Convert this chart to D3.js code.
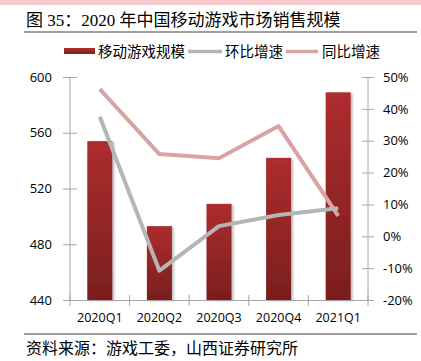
<!DOCTYPE html>
<html lang="zh">
<head>
  <meta charset="UTF-8">
  <title>2020 年中国移动游戏市场销售规模</title>
  <style>
    body { margin: 0; background: #fff; }
    svg { display: block; }
  </style>
</head>
<body>
  <div id="chart"></div>
  <script src="https://d3js.org/d3.v7.min.js"></script>
  <script>

    const quarters = ["2020Q1", "2020Q2", "2020Q3", "2020Q4", "2021Q1"];
    const scale = [554, 493, 509, 542, 589];          // 移动游戏规模 (亿元)
    const qoq = [37.5, -10.8, 3.2, 6.7, 8.8];          // 环比增速 (%)
    const yoy = [46.2, 25.8, 24.5, 34.6, 6.4];         // 同比增速 (%)
    const leftTicks = [440, 480, 520, 560, 600];
    const rightTicks = [-20, -10, 0, 10, 20, 30, 40, 50];

    const width = 421,
          height = 361,
          margin = {top: 77, right: 53, bottom: 61, left: 70};

    const cjk = "'Noto Sans CJK SC', sans-serif";
    const latin = "'Open Sans', 'Noto Sans CJK SC', sans-serif";
    const axisColor = "#a6a6a6";

    const svg = d3.select("#chart")
      .append("svg")
      .attr("width", width)
      .attr("height", height);

    // gradient + shadow for bars
    const defs = svg.append("defs");
    const grad = defs.append("linearGradient")
      .attr("id", "barGrad")
      .attr("x1", 0).attr("y1", 0).attr("x2", 0).attr("y2", 1);
    grad.append("stop").attr("offset", "0%").attr("stop-color", "#ad2d2e");
    grad.append("stop").attr("offset", "100%").attr("stop-color", "#7a1e1e");

    const legGrad = defs.append("linearGradient")
      .attr("id", "legGrad")
      .attr("x1", 0).attr("y1", 0).attr("x2", 0).attr("y2", 1);
    legGrad.append("stop").attr("offset", "0%").attr("stop-color", "#b03030");
    legGrad.append("stop").attr("offset", "100%").attr("stop-color", "#7e2020");

    defs.append("filter")
      .attr("id", "shadow")
      .attr("x", "-20%").attr("y", "-5%").attr("width", "150%").attr("height", "115%")
      .append("feDropShadow")
      .attr("dx", 2).attr("dy", 1)
      .attr("stdDeviation", 1.2)
      .attr("flood-color", "#000")
      .attr("flood-opacity", 0.25);

    // top pink band
    svg.append("rect")
      .attr("x", 0).attr("y", 0)
      .attr("width", width).attr("height", 5)
      .attr("fill", "#f5c8cb");

    // title
    svg.append("text")
      .attr("x", 26)
      .attr("y", 26)
      .style("font-family", "'Liberation Serif', 'Noto Sans CJK SC', serif")
      .style("font-size", "17px")
      .attr("fill", "#000")
      .text("图 35：2020 年中国移动游戏市场销售规模");

    svg.append("line")
      .attr("x1", 24).attr("x2", 417)
      .attr("y1", 32).attr("y2", 32)
      .attr("stroke", "#404040")
      .attr("stroke-width", 1);

    // scales
    const x = d3.scaleBand(quarters, [margin.left, width - margin.right])
      .paddingInner(0.58)
      .paddingOuter(0.29);

    const xStep = d3.scaleBand(quarters, [margin.left, width - margin.right]);

    const y = d3.scaleLinear([440, 600], [height - margin.bottom, margin.top]);
    const y2 = d3.scaleLinear([-20, 50], [height - margin.bottom, margin.top]);

    // bars
    svg.append("g")
      .selectAll("rect")
      .data(scale)
      .join("rect")
      .attr("x", (d, i) => x(quarters[i]))
      .attr("y", d => y(d))
      .attr("width", x.bandwidth())
      .attr("height", d => y(440) - y(d))
      .attr("fill", "url(#barGrad)")
      .attr("filter", "url(#shadow)");

    // axes
    const leftAxis = svg.append("g")
      .attr("transform", `translate(${margin.left},0)`)
      .call(d3.axisLeft(y).tickValues(leftTicks).tickSize(7).tickPadding(11));

    const rightAxis = svg.append("g")
      .attr("transform", `translate(${width - margin.right},0)`)
      .call(d3.axisRight(y2).tickValues(rightTicks).tickSize(6).tickPadding(9)
        .tickFormat(d => d + "%"));

    const bottomAxis = svg.append("g")
      .attr("transform", `translate(0,${height - margin.bottom})`)
      .call(d3.axisBottom(xStep).tickSize(0).tickPadding(13));

    [leftAxis, rightAxis, bottomAxis].forEach(g => {
      g.select(".domain").attr("stroke", axisColor);
      g.selectAll(".tick line").attr("stroke", axisColor);
      g.selectAll("text")
        .attr("fill", "#000")
        .style("font-family", latin)
        .style("font-size", "13px");
    });
    bottomAxis.selectAll("text").style("font-size", "12.5px");

    // crossing ticks on y axes
    leftAxis.selectAll(".tick line").attr("x1", 7);
    rightAxis.selectAll(".tick line").attr("x1", -6);
    leftAxis.select(".domain").attr("d", `M0,${y(440)}V${y(600)}`);
    rightAxis.select(".domain").attr("d", `M0,${y2(-20)}V${y2(50)}`);

    // category boundary ticks on x axis
    const bounds = quarters.map(q => xStep(q)).concat([width - margin.right]);
    bottomAxis.selectAll(".bound")
      .data(bounds)
      .join("line")
      .attr("class", "bound")
      .attr("x1", d => d).attr("x2", d => d)
      .attr("y1", -5).attr("y2", 6)
      .attr("stroke", axisColor);

    // lines
    const line = d3.line()
      .x((d, i) => xStep(quarters[i]) + xStep.bandwidth() / 2)
      .y(d => y2(d));

    svg.append("path")
      .datum(yoy)
      .attr("d", line)
      .attr("fill", "none")
      .attr("stroke", "#d9a3a3")
      .attr("stroke-width", 4)
      .attr("stroke-linejoin", "round");

    svg.append("path")
      .datum(qoq)
      .attr("d", line)
      .attr("fill", "none")
      .attr("stroke", "#b5b5b5")
      .attr("stroke-width", 4)
      .attr("stroke-linejoin", "round");

    // legend
    const legend = svg.append("g")
      .style("font-family", cjk)
      .style("font-size", "14.5px");

    legend.append("rect")
      .attr("x", 64).attr("y", 48)
      .attr("width", 31).attr("height", 6)
      .attr("fill", "url(#legGrad)");
    legend.append("text").attr("x", 98).attr("y", 57).text("移动游戏规模");

    legend.append("line")
      .attr("x1", 188).attr("x2", 222)
      .attr("y1", 51.5).attr("y2", 51.5)
      .attr("stroke", "#b5b5b5").attr("stroke-width", 3.5);
    legend.append("text").attr("x", 225).attr("y", 57).text("环比增速");

    legend.append("line")
      .attr("x1", 286).attr("x2", 318)
      .attr("y1", 51.5).attr("y2", 51.5)
      .attr("stroke", "#d9a3a3").attr("stroke-width", 3.5);
    legend.append("text").attr("x", 322).attr("y", 57).text("同比增速");

    // source
    svg.append("line")
      .attr("x1", 24).attr("x2", 417)
      .attr("y1", 334).attr("y2", 334)
      .attr("stroke", "#404040")
      .attr("stroke-width", 1);

    svg.append("text")
      .attr("x", 26)
      .attr("y", 354)
      .style("font-family", cjk)
      .style("font-size", "16px")
      .attr("fill", "#000")
      .text("资料来源：游戏工委，山西证券研究所");

  </script>
</body>
</html>
